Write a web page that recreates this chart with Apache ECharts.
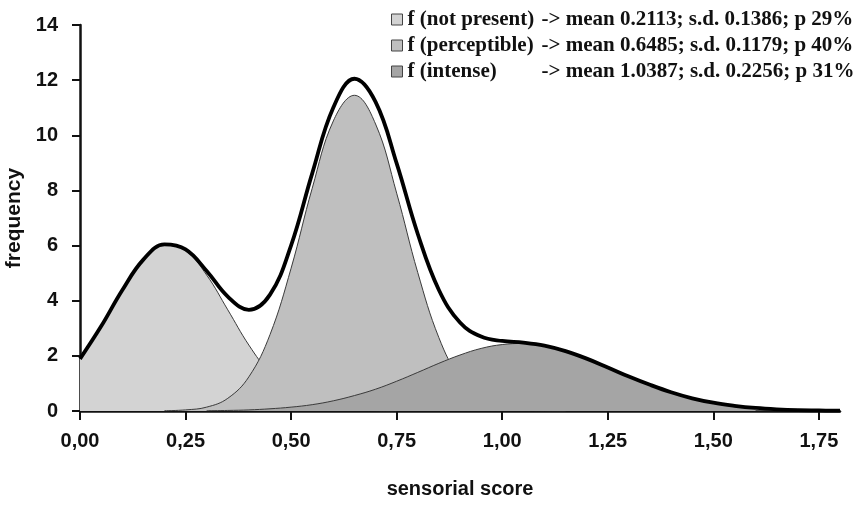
<!DOCTYPE html>
<html>
<head>
<meta charset="utf-8">
<script src="https://cdn.jsdelivr.net/npm/echarts@6/dist/echarts.min.js"></script>
<style>
  html, body { margin: 0; padding: 0; background: #fff; }
  #chart { width: 859px; height: 507px; }
</style>
</head>
<body>
<div id="chart"></div>
<script>
// sensorial score, step 0.05
const scores = [0, 0.05, 0.1, 0.15, 0.2, 0.25, 0.3, 0.35, 0.4, 0.45, 0.5, 0.55, 0.6, 0.65, 0.7, 0.75,
  0.8, 0.85, 0.9, 0.95, 1.0, 1.05, 1.1, 1.15, 1.2, 1.25, 1.3, 1.35, 1.4, 1.45, 1.5, 1.55, 1.6, 1.65, 1.7, 1.75, 1.8]

const notPresent = [1.89, 3.07, 4.38, 5.49, 6.03, 5.82, 4.93, 3.67, 2.39, 1.37, 0.69, 0.31, 0.12, 0.04, 0.01, 0,
  null, null, null, null, null, null, null, null, null, null, null, null, null, null, null, null, null, null, null, null, null]

const perceptible = [null, null, null, null, 0.01, 0.04, 0.14, 0.46, 1.24, 2.77, 5.18, 8.08, 10.52, 11.45, 10.41, 7.90,
  5.02, 2.66, 1.18, 0.43, 0.13, 0.03, 0.01, 0, null, null, null, null, null, null, null, null, null, null, null, null, null]

const intense = [null, null, null, null, null, null, 0.01, 0.02, 0.04, 0.08, 0.14, 0.23, 0.37, 0.56, 0.79, 1.08,
  1.40, 1.73, 2.03, 2.27, 2.41, 2.45, 2.36, 2.17, 1.90, 1.58, 1.25, 0.95, 0.68, 0.46, 0.30, 0.19, 0.11, null, null, null, null]

const total = [1.89, 3.07, 4.38, 5.49, 6.04, 5.86, 5.08, 4.15, 3.67, 4.22, 6.01, 8.62, 11.01, 12.05, 11.21, 8.98,
  6.42, 4.39, 3.21, 2.70, 2.54, 2.48, 2.37, 2.17, 1.90, 1.58, 1.25, 0.95, 0.68, 0.46, 0.30, 0.19, 0.11, 0.06, 0.03, 0.02, 0.01]

const xTicks = [0, 0.25, 0.5, 0.75, 1.0, 1.25, 1.5, 1.75]

const legendNames = ['f (not present)', 'f (perceptible)', 'f (intense)']
const legendStats = [
  '-> mean 0.2113; s.d. 0.1386; p 29%',
  '-> mean 0.6485; s.d. 0.1179; p 40%',
  '-> mean 1.0387; s.d. 0.2256; p 31%'
]
const fills = ['#d3d3d3', '#bfbfbf', '#a5a5a5']

function pairs(arr) {
  return scores.map((x, i) => [x, arr[i]])
}

const myChart = echarts.init(document.getElementById('chart'), null, { renderer: 'canvas' })

const areaSeries = [notPresent, perceptible, intense].map((arr, i) => ({
  name: legendNames[i],
  type: 'line',
  smooth: 0.4,
  symbol: 'none',
  z: 2 + i,
  lineStyle: { color: '#3a3a3a', width: 1 },
  areaStyle: { color: fills[i], opacity: 1 },
  itemStyle: { color: fills[i] },
  data: pairs(arr),
}))

const legendFont = { fontFamily: 'Liberation Serif', fontWeight: 'bold', fontSize: 21, color: '#111' }

const option = {
  animation: false,
  backgroundColor: '#fff',
  grid: { left: 80, right: 19, top: 25, bottom: 96, outerBoundsMode: 'none' },
  legend: {
    orient: 'vertical',
    left: 386,
    top: 4,
    itemWidth: 11,
    itemHeight: 11,
    itemGap: 5,
    icon: 'rect',
    data: legendNames.map((n, i) => ({
      name: n,
      itemStyle: { color: fills[i], borderColor: '#444', borderWidth: 1 },
    })),
    formatter: (name) => {
      const i = legendNames.indexOf(name)
      return '{a|' + name + '}{b|' + legendStats[i] + '}'
    },
    textStyle: Object.assign({
      rich: {
        a: Object.assign({ width: 134 }, legendFont),
        b: legendFont,
      },
    }, legendFont),
  },
  xAxis: {
    type: 'value',
    min: 0,
    max: 1.8,
    name: 'sensorial score',
    nameLocation: 'middle',
    nameGap: 68,
    nameTextStyle: { fontFamily: 'Liberation Sans', fontWeight: 'bold', fontSize: 20, color: '#111' },
    axisLine: { show: true, onZero: false, lineStyle: { color: '#111', width: 2.5 } },
    axisTick: { show: true, length: 9, customValues: xTicks, lineStyle: { color: '#111', width: 2 } },
    axisLabel: {
      customValues: xTicks,
      margin: 20,
      fontFamily: 'Liberation Sans',
      fontWeight: 'bold',
      fontSize: 20,
      color: '#111',
      formatter: (v) => v.toFixed(2).replace('.', ','),
    },
    splitLine: { show: false },
  },
  yAxis: {
    type: 'value',
    min: 0,
    max: 14,
    interval: 2,
    name: 'frequency',
    nameLocation: 'middle',
    nameGap: 52,
    nameTextStyle: { fontFamily: 'Liberation Sans', fontWeight: 'bold', fontSize: 21, color: '#111' },
    axisLine: { show: true, lineStyle: { color: '#111', width: 2.5 } },
    axisTick: { show: true, length: 8, lineStyle: { color: '#111', width: 2 } },
    axisLabel: {
      margin: 22,
      fontFamily: 'Liberation Sans',
      fontWeight: 'bold',
      fontSize: 20,
      color: '#111',
    },
    splitLine: { show: false },
  },
  series: areaSeries.concat([
    {
      name: 'total',
      type: 'line',
      smooth: 0.4,
      symbol: 'none',
      z: 6,
      lineStyle: { color: '#000', width: 3.8 },
      data: pairs(total),
    },
  ]),
}

myChart.setOption(option)
</script>
</body>
</html>
